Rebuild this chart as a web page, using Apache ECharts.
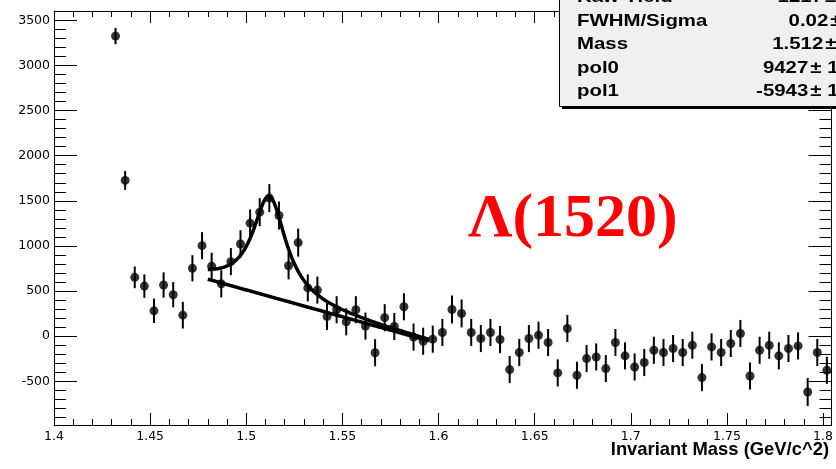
<!DOCTYPE html>
<html>
<head>
<meta charset="utf-8">
<script src="https://cdn.jsdelivr.net/npm/echarts@6/dist/echarts.min.js"></script>
<style>
  html, body { margin: 0; padding: 0; background: #fff; }
  #chart { width: 836px; height: 469px; }
</style>
</head>
<body>
<div id="chart"></div>
<script>
// Histogram binning: 75 bins, 5 MeV wide
const binLow = 1.4295;
const binWidth = 0.005;

// Background-subtracted counts per bin and their errors
const counts = [
  3325, 1726, 652, 555, 281, 567, 459, 233, 752, 1003,
  775, 580, 826, 1022, 1252, 1374, 1530, 1337, 780, 1037,
  535, 511, 218, 293, 159, 293, 112, -183, 205, 107,
  326, -10, -56, -33, 41, 296, 252, 41, -26, 41,
  -37, -370, -181, -26, 11, -70, -407, 85, -433, -248,
  -230, -359, -70, -218, -341, -292, -156, -181, -137, -181,
  -100, -459, -119, -181, -81, 30, -441, -156, -100, -218,
  -137, -108, -619, -181, -378
];
const errors = [
  90, 105, 120, 130, 135, 140, 140, 148, 145, 150,
  150, 150, 150, 152, 152, 155, 155, 155, 150, 155,
  150, 150, 150, 150, 150, 150, 150, 150, 150, 150,
  150, 150, 150, 150, 150, 155, 155, 150, 150, 150,
  150, 150, 150, 150, 150, 150, 150, 150, 150, 150,
  150, 150, 150, 150, 150, 150, 150, 150, 150, 150,
  150, 150, 150, 150, 150, 150, 150, 150, 150, 150,
  150, 150, 155, 150, 150
];

// Fit: Breit-Wigner peak on a linear background
const fitMass = 1.512;
const fitFWHM = 0.021;
const fitPeak = 1112;
const pol0 = 9427;
const pol1 = -5943;
const fitRange = [1.48, 1.595];
const fitNpx = 100;

// Axis ranges and tick labels
const xRange = [1.4, 1.80443];
const yRange = [-984, 3603];
const xTickValues = [1.4, 1.45, 1.5, 1.55, 1.6, 1.65, 1.7, 1.75, 1.8];
const yTickValues = [-500, 0, 500, 1000, 1500, 2000, 2500, 3000, 3500];

// Stats box rows
const statLabels = ['Raw Yield', 'FWHM/Sigma', 'Mass', 'pol0', 'pol1'];
const statValues = ['1217', '0.02', '1.512', '9427', '-5943'];
const statErrLead = ['±', '±', '±', '± 1', '± 1'];

const titleText = 'Invariant Mass (GeV/c^2)';
const peakLabel = 'Λ(1520)';

// ---- build series data ----
const points = counts.map((c, i) => [binLow + (i + 0.5) * binWidth, c, errors[i]]);

const background = m => pol0 + pol1 * m;
const signal = m => {
  const hw = fitFWHM / 2;
  return fitPeak * hw * hw / ((m - fitMass) * (m - fitMass) + hw * hw);
};
const bgCurve = [];
const totalCurve = [];
for (let i = 0; i <= fitNpx; i++) {
  const m = fitRange[0] + (fitRange[1] - fitRange[0]) * i / fitNpx;
  bgCurve.push([m, background(m)]);
  totalCurve.push([m, background(m) + signal(m)]);
}

// ---- chart ----
const chart = echarts.init(document.getElementById('chart'), null, { renderer: 'canvas' });

const labelFont = { fontFamily: '"DejaVu Sans"', fontSize: 12.5, color: '#000',
                    formatter: v => String(+v.toFixed(4)) };

function xAxisDef(position, showLabels) {
  return {
    type: 'value', position: position,
    min: xRange[0], max: xRange[1], interval: 0.05,
    axisLine: { show: true, onZero: false, lineStyle: { color: '#000', width: 1 } },
    axisTick: { show: true, inside: true, length: 12, customValues: xTickValues,
                lineStyle: { color: '#000', width: 1 } },
    minorTick: { show: true, splitNumber: 5, length: 6, lineStyle: { color: '#000', width: 1 } },
    axisLabel: Object.assign({ show: showLabels, margin: 5, customValues: xTickValues }, labelFont),
    splitLine: { show: false }
  };
}
function yAxisDef(position, showLabels) {
  return {
    type: 'value', position: position,
    min: yRange[0], max: yRange[1], minInterval: 500, maxInterval: 500, splitNumber: 9,
    axisLine: { show: true, onZero: false, lineStyle: { color: '#000', width: 1 } },
    axisTick: { show: true, inside: true, length: 23, customValues: yTickValues,
                lineStyle: { color: '#000', width: 1 } },
    minorTick: { show: true, splitNumber: 5, length: 12, lineStyle: { color: '#000', width: 1 } },
    axisLabel: Object.assign({ show: showLabels, margin: 4, customValues: yTickValues }, labelFont),
    splitLine: { show: false }
  };
}

// stats box graphic
const statGraphics = [
  { type: 'rect', z: 100, shape: { x: 562, y: -60, width: 400, height: 169 }, style: { fill: '#000' } },
  { type: 'rect', z: 101, shape: { x: 559.5, y: -60, width: 400, height: 166.5 },
    style: { fill: '#f0f0f0', stroke: '#000', lineWidth: 1 } }
];
const rowY = [-2.5, 21, 44.5, 68, 91.5];
const valueRight = [823, 828.3, 823.3, 808.3, 808.3];
const statFont = 'bold 17px "Liberation Sans", Arial, sans-serif';
statLabels.forEach((lab, i) => {
  statGraphics.push({ type: 'text', z: 102, x: 577, y: rowY[i], scaleX: 1.2,
    style: { text: lab, font: statFont, fill: '#000', align: 'left', verticalAlign: 'middle' } });
  statGraphics.push({ type: 'text', z: 102, x: valueRight[i], y: rowY[i], scaleX: 1.2,
    style: { text: statValues[i], font: statFont, fill: '#000', align: 'right', verticalAlign: 'middle' } });
  statGraphics.push({ type: 'text', z: 102, x: valueRight[i] + 2, y: rowY[i], scaleX: 1.2,
    style: { text: statErrLead[i], font: statFont, fill: '#000', align: 'left', verticalAlign: 'middle' } });
});

chart.setOption({
  animation: false,
  backgroundColor: '#fff',
  grid: { left: 54, top: 11, width: 777.7, height: 414, containLabel: false },
  xAxis: [xAxisDef('bottom', true), xAxisDef('top', false)],
  yAxis: [yAxisDef('left', true), yAxisDef('right', false)],
  series: [
    {
      type: 'custom', xAxisIndex: 0, yAxisIndex: 0, data: points, z: 3,
      renderItem: (params, api) => {
        const x = api.value(0), y = api.value(1), e = api.value(2);
        const p1 = api.coord([x, y - e]);
        const p2 = api.coord([x, y + e]);
        return { type: 'line', shape: { x1: p1[0], y1: p1[1], x2: p2[0], y2: p2[1] },
                 style: { stroke: '#000', lineWidth: 2 } };
      }
    },
    {
      type: 'scatter', xAxisIndex: 0, yAxisIndex: 0, data: points, z: 4,
      symbol: 'circle', symbolSize: 9, itemStyle: { color: '#000' }
    },
    {
      type: 'line', xAxisIndex: 0, yAxisIndex: 0, data: bgCurve, z: 5,
      showSymbol: false, smooth: false, lineStyle: { color: '#000', width: 3.5 }
    },
    {
      type: 'line', xAxisIndex: 0, yAxisIndex: 0, data: totalCurve, z: 5,
      showSymbol: false, smooth: false, lineStyle: { color: '#000', width: 3.5 }
    }
  ],
  graphic: [
    { type: 'text', right: 7, top: 440.8, z: 50,
      style: { text: titleText, font: 'bold 18.4px "Liberation Sans", Arial, sans-serif', fill: '#000' } },
    { type: 'text', left: 468, top: 189, z: 50,
      style: { text: peakLabel, font: 'bold 62px "Liberation Serif", "Times New Roman", serif', fill: '#ff0000' } }
  ].concat(statGraphics)
});
</script>
</body>
</html>
